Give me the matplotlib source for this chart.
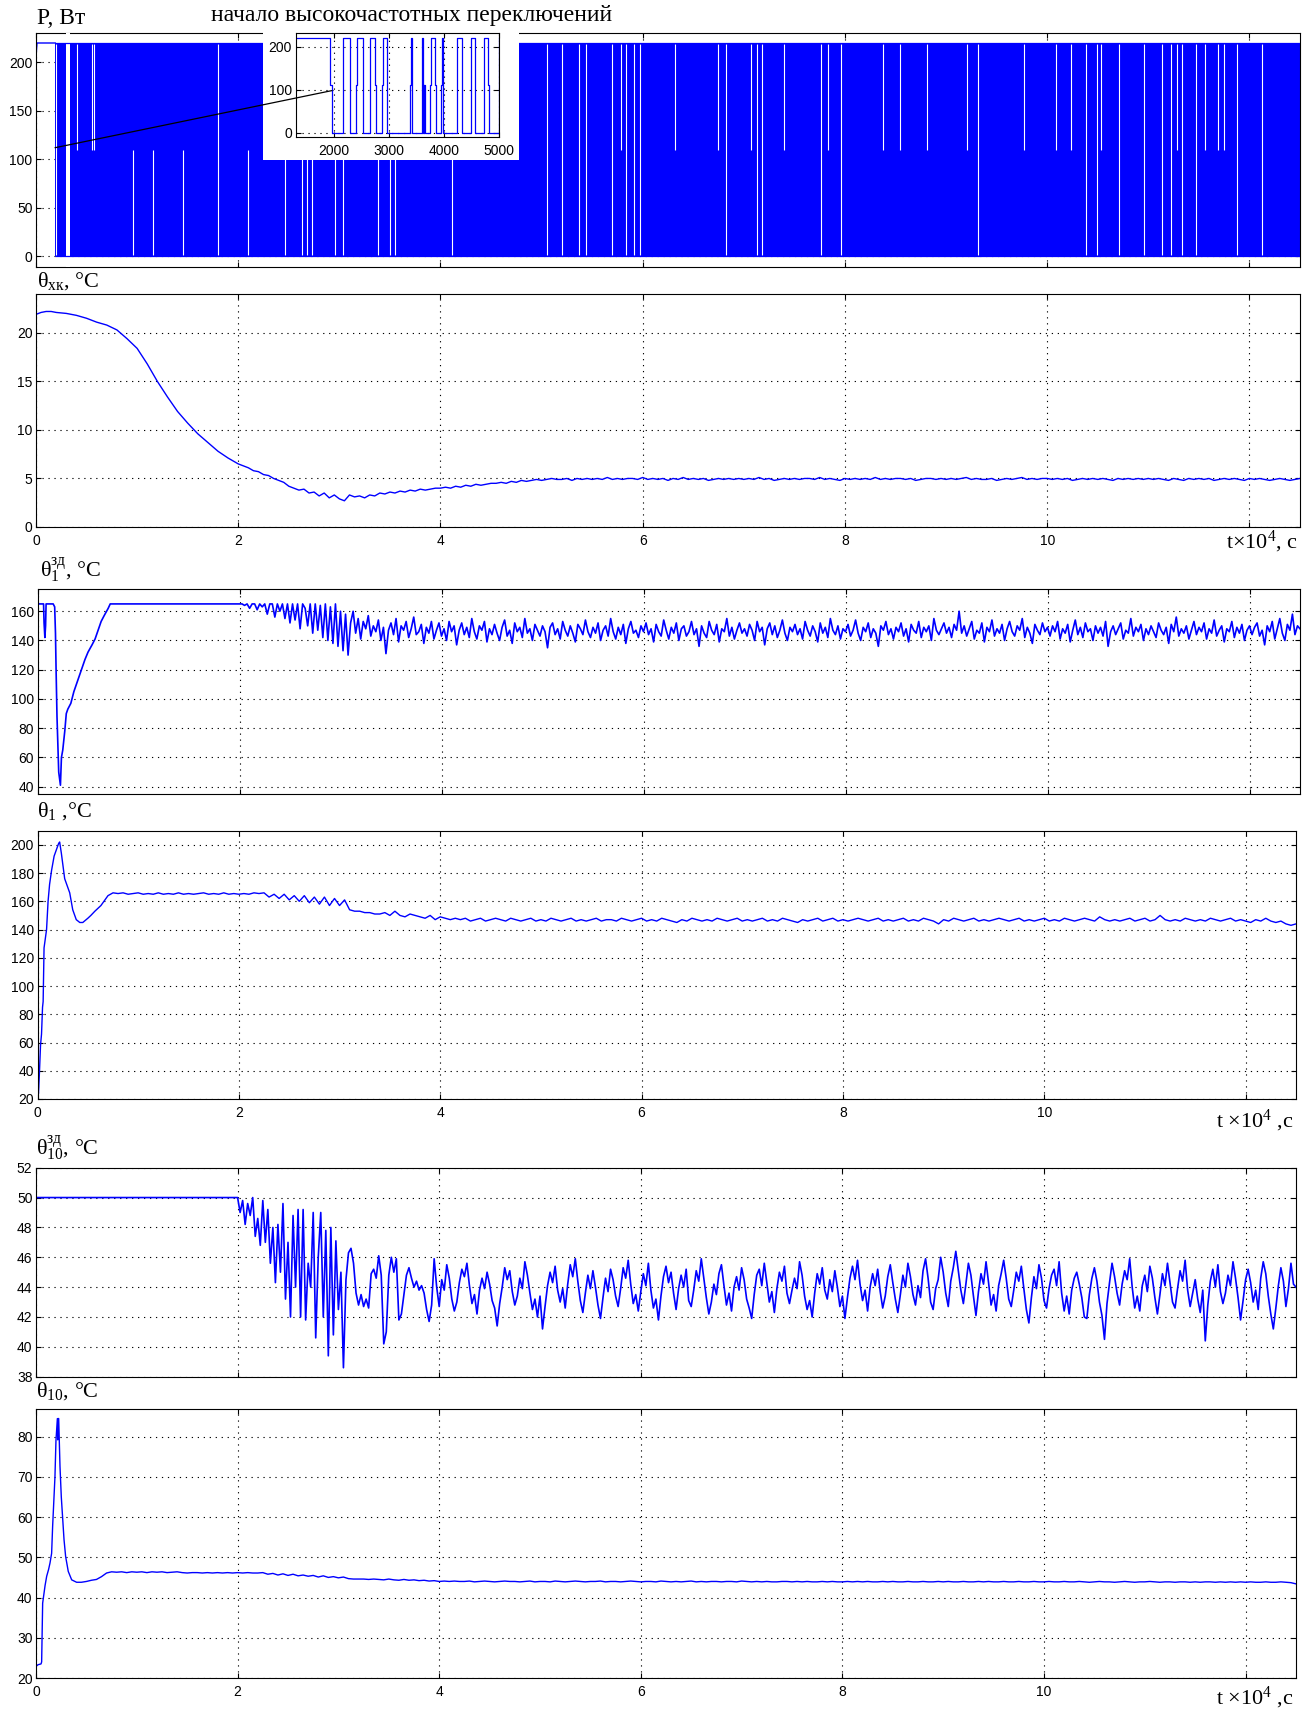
import numpy as np
import matplotlib
matplotlib.use("Agg")
import matplotlib.pyplot as plt
from matplotlib.patches import Rectangle, ConnectionPatch

W, H = 1312, 1711
BLUE = "#0000ff"
STEP = 0.05    # sampling step of the smooth tabulated tails, x10^4 s
FINE = 0.025   # sampling step of the noisy tabulated tails

# ---------------- P, Вт (dense relay switching) ----------------
p_start_t = [0.0, 0.003, 0.01, 0.19]
p_start = [200, 210, 220, 220]
p_switch_from = 0.19
p_high, p_mid, p_low = 220, 110, 0
p_full_gaps = [0.20, 1.80, 2.46, 2.63, 2.68, 2.73, 2.96, 3.04, 3.38, 3.50, 3.55, 4.11,
               5.05, 5.20, 5.37, 5.44, 5.70, 5.83, 5.91, 5.97, 6.82, 7.13, 7.18, 7.76,
               7.96, 9.32, 10.38, 10.49, 10.71, 10.96, 11.14, 11.22, 11.33, 11.47,
               11.88, 12.12]
p_full_span = (0.296, 0.336)
p_upper_gaps = [0.41, 0.55, 0.57, 5.79, 6.32, 6.74, 7.07, 7.40, 7.83, 8.38, 8.54, 8.81,
                9.21, 9.77, 10.09, 10.24, 10.53, 11.28, 11.56, 11.69, 11.75]
p_lower_gaps = [0.96, 1.16, 1.45, 2.10]

# inset: start of high-frequency switching, seconds
ins_t = [1320, 1940, 1970, 2170, 2300, 2400, 2425, 2535, 2655, 2745, 2775, 2880, 2897,
         2970, 3380, 3406, 3418, 3606, 3624, 3630, 3638, 3644, 3652, 3745, 3764, 3830,
         3855, 3952, 3970, 3988, 4242, 4321, 4485, 4558, 4727, 4788, 4812, 4990, 5000]
ins_p = [220, 110, 0, 220, 0, 110, 220, 0, 220, 110, 0, 110, 220,
         0, 110, 220, 0, 220, 0, 110, 0, 110, 0, 110, 220, 110,
         0, 110, 220, 0, 220, 0, 220, 0, 220, 110, 0, 220, 220]

# ---------------- theta_xk ----------------
xk_t_early = [0.0, 0.05, 0.1, 0.15, 0.2, 0.3, 0.4, 0.5, 0.6, 0.7, 0.8, 0.9, 1.0, 1.1,
              1.2, 1.3, 1.4, 1.5, 1.6, 1.7, 1.8, 1.9, 2.0]
xk_early = [21.9, 22.1, 22.2, 22.2, 22.1, 22.0, 21.8, 21.5, 21.1, 20.8, 20.3, 19.4, 18.4,
            16.8, 15.0, 13.4, 11.9, 10.7, 9.6, 8.7, 7.8, 7.1, 6.5]
xk_tail_t0 = 2.05
xk_tail = [
    6.3, 6.1, 5.8, 5.7, 5.4, 5.3, 5.0, 4.8, 4.6, 4.2,
    4.0, 3.8, 3.9, 3.5, 3.6, 3.2, 3.5, 3.0, 3.3, 2.9,
    2.7, 3.3, 3.1, 3.2, 3.0, 3.3, 3.2, 3.5, 3.4, 3.6,
    3.5, 3.7, 3.6, 3.8, 3.7, 3.9, 3.8, 3.9, 4.0, 4.0,
    4.1, 4.0, 4.2, 4.1, 4.3, 4.2, 4.4, 4.3, 4.4, 4.5,
    4.5, 4.6, 4.5, 4.7, 4.6, 4.8, 4.7, 4.8, 4.9, 4.8,
    4.9, 5.0, 4.9, 4.9, 5.0, 4.8, 5.0, 4.9, 5.0, 4.9,
    5.0, 4.9, 5.1, 4.9, 5.0, 4.9, 5.0, 5.0, 4.9, 5.1,
    4.9, 5.0, 4.9, 5.0, 4.8, 5.0, 4.9, 5.1, 4.9, 5.0,
    4.9, 5.0, 4.8, 4.9, 5.0, 4.9, 5.0, 4.9, 5.0, 4.9,
    5.0, 4.9, 5.1, 4.9, 5.0, 4.8, 4.9, 5.0, 4.9, 5.0,
    4.9, 5.0, 5.0, 4.9, 5.1, 4.9, 5.0, 4.9, 4.8, 5.0,
    4.9, 5.0, 4.9, 5.0, 4.9, 5.1, 4.9, 5.0, 4.9, 5.0,
    5.0, 4.9, 5.0, 4.8, 4.9, 5.0, 5.0, 4.9, 5.0, 4.9,
    5.0, 4.9, 5.0, 5.1, 4.9, 5.0, 4.9, 4.9, 5.0, 4.8,
    4.9, 5.0, 4.9, 5.0, 5.1, 4.9, 5.0, 4.9, 5.0, 5.0,
    4.9, 5.0, 4.9, 5.0, 4.8, 4.9, 5.0, 4.9, 5.0, 4.9,
    5.0, 4.9, 4.8, 5.0, 4.9, 5.0, 4.9, 5.0, 4.9, 5.0,
    4.9, 5.0, 4.9, 4.8, 5.0, 4.9, 4.8, 5.0, 4.9, 5.0,
    4.9, 5.0, 4.8, 4.9, 5.0, 4.9, 5.0, 4.9, 4.8, 5.0,
    4.9, 5.0, 4.9, 4.8, 4.9, 5.0, 4.9, 4.8, 4.9, 5.0,
]

# ---------------- theta_1 setpoint ----------------
s1_t_early = [0.0, 0.06, 0.065, 0.073, 0.08, 0.085, 0.155, 0.17, 0.178, 0.184, 0.193,
              0.21, 0.227, 0.237, 0.25, 0.27, 0.285, 0.30, 0.33, 0.36, 0.40, 0.435,
              0.47, 0.50, 0.54, 0.57, 0.60, 0.63, 0.66, 0.70, 0.72, 2.0]
s1_early = [165, 165, 152, 142, 150, 165, 165, 163, 145, 120, 88,
            50, 41, 60, 65, 78, 90, 93, 97, 105, 113, 120,
            127, 132, 137, 141, 147, 153, 157, 162, 165, 165]
s1_tail_t0 = 2.025
s1_tail = [
    165, 164, 165, 162, 165, 165, 161, 165, 163, 165, 158, 165, 165, 156, 165, 160, 165, 155, 165, 152,
    165, 154, 165, 148, 165, 162, 150, 165, 145, 165, 147, 164, 142, 165, 140, 163, 138, 165, 136, 160,
    133, 158, 130, 152, 160, 145, 155, 141, 153, 148, 157, 143, 150, 146, 154, 140, 149, 131, 147, 152,
    144, 155, 139, 150, 147, 153, 142, 148, 156, 144, 146, 151, 138, 149, 145, 153, 141, 147, 152, 143,
    148, 140, 153, 146, 150, 137, 147, 152, 144, 149, 142, 155, 146, 141, 150, 147, 153, 139, 148, 144,
    151, 145, 140, 149, 154, 143, 147, 138, 152, 146, 149, 142, 155, 145, 148, 140, 151, 147, 143, 150,
    146, 135, 149, 152, 144, 148, 141, 153, 147, 143, 150, 145, 139, 151, 148, 144, 154, 146, 142, 149,
    145, 152, 140, 147, 150, 143, 155, 146, 141, 149, 144, 151, 138, 148, 153, 145, 147, 142, 150, 146,
    152, 144, 148, 139, 151, 146, 143, 154, 147, 141, 149, 145, 152, 140, 148, 150, 143, 146, 153, 144,
    148, 136, 150, 145, 142, 153, 147, 144, 151, 139, 148, 146, 155, 143, 149, 141, 147, 152, 145, 148,
    143, 151, 147, 140, 153, 146, 149, 137, 148, 152, 144, 150, 142, 147, 154, 145, 140, 149, 146, 151,
    144, 148, 141, 153, 147, 143, 150, 146, 139, 152, 145, 149, 142, 155, 147, 144, 150, 141, 148, 146,
    151, 143, 147, 154, 145, 140, 149, 146, 152, 142, 148, 145, 136, 150, 147, 153, 144, 148, 141, 149,
    146, 152, 143, 148, 139, 151, 147, 145, 153, 142, 149, 146, 150, 140, 155, 147, 144, 148, 152, 145,
    149, 142, 151, 147, 160, 145, 150, 143, 148, 153, 141, 147, 145, 152, 139, 149, 146, 154, 143, 148,
    145, 151, 140, 148, 153, 146, 143, 150, 147, 155, 142, 149, 145, 138, 151, 147, 144, 152, 146, 149,
    143, 150, 146, 153, 141, 148, 145, 151, 139, 147, 154, 144, 149, 142, 152, 146, 148, 140, 150, 145,
    149, 143, 153, 136, 146, 150, 144, 148, 152, 141, 147, 145, 155, 143, 149, 146, 151, 140, 148, 144,
    150, 146, 142, 152, 147, 144, 149, 138, 151, 146, 156, 143, 148, 145, 150, 141, 147, 153, 144, 149,
    146, 152, 141, 148, 145, 154, 143, 147, 150, 139, 148, 146, 153, 142, 149, 145, 151, 140, 147, 150,
    144, 149, 152, 143, 147, 137, 150, 146, 153, 141, 148, 155, 145, 140, 151, 147, 158, 144, 150, 148,
]

# ---------------- theta_1 ----------------
t1_t_early = [0.0, 0.01, 0.02, 0.03, 0.04, 0.05, 0.056, 0.065, 0.08, 0.09, 0.105, 0.12,
              0.14, 0.165, 0.19, 0.21, 0.22, 0.237, 0.255, 0.27, 0.30, 0.32, 0.35,
              0.385, 0.42, 0.45, 0.50, 0.53, 0.57, 0.60, 0.63, 0.66, 0.70]
t1_early = [21, 24, 40, 58, 66, 85, 89, 127, 135, 140, 160, 172,
            182, 192, 197, 201, 202, 194, 184, 176, 170, 166, 154,
            147, 145, 145, 148, 150, 153, 155, 157, 160, 164]
t1_tail_t0 = 0.75
t1_tail = [
    166, 165.5, 166, 165, 165.5, 166, 165, 165.5, 165, 166,
    165, 165.5, 165, 166, 165, 165.5, 165, 165.5, 166, 165,
    165.5, 165, 166, 165, 165.5, 165, 165.5, 165, 166, 165.5,
    166, 163, 165, 162, 165, 161, 164, 160, 164, 159,
    163, 158, 163, 157, 162, 157, 161, 154, 153, 153,
    152, 152, 151, 151, 152, 150, 153, 150, 149, 151,
    150, 149, 148, 150, 147, 149, 148, 147, 148, 147,
    148, 146, 147, 148, 146, 147, 148, 147, 146, 148,
    147, 146, 147, 148, 146, 147, 146, 148, 147, 146,
    147, 148, 146, 147, 146, 147, 148, 146, 147, 147,
    146, 148, 147, 146, 147, 148, 146, 147, 146, 148,
    147, 146, 145, 147, 146, 148, 147, 146, 147, 146,
    148, 147, 146, 147, 148, 146, 147, 146, 147, 148,
    146, 147, 146, 148, 147, 146, 145, 147, 146, 147,
    148, 146, 147, 148, 146, 147, 146, 147, 148, 147,
    146, 147, 148, 146, 147, 146, 147, 148, 146, 147,
    146, 148, 147, 146, 144, 147, 146, 148, 147, 146,
    147, 148, 146, 147, 146, 147, 148, 147, 146, 147,
    148, 146, 147, 146, 147, 148, 146, 147, 146, 148,
    147, 146, 147, 148, 147, 146, 149, 147, 146, 147,
    146, 147, 148, 146, 147, 148, 146, 147, 150, 147,
    146, 147, 146, 148, 147, 146, 147, 146, 148, 147,
    146, 147, 148, 146, 147, 146, 145, 147, 146, 148,
    146, 145, 146, 144, 143, 144,
]

# ---------------- theta_10 setpoint ----------------
s10_t_early = [0.0, 2.0]
s10_early = [50.0, 50.0]
s10_tail_t0 = 2.025
s10_tail = [
    49.0, 49.8, 48.2, 49.6, 48.8, 50.0, 47.4, 48.6, 46.8, 49.8, 47.0, 49.2, 45.6, 48.0, 44.3, 48.2, 45.0, 49.6, 43.2, 47.0,
    42.0, 48.8, 44.0, 49.2, 42.0, 49.2, 41.8, 45.6, 44.0, 49.0, 40.6, 46.0, 49.0, 42.0, 47.8, 39.4, 48.0, 40.8, 47.1, 42.5,
    45.0, 38.6, 44.5, 46.3, 46.6, 45.6, 43.6, 42.8, 43.5, 42.7, 43.2, 42.6, 44.9, 45.2, 44.6, 46.1, 44.8, 40.2, 41.0, 44.8,
    46.0, 45.0, 45.9, 41.8, 42.2, 43.5, 44.8, 45.3, 44.6, 44.0, 44.4, 43.8, 44.1, 43.6, 42.5, 41.7, 42.8, 45.9, 44.0, 42.7,
    44.5, 43.8, 45.5, 44.6, 43.2, 42.4, 43.0, 44.3, 45.2, 44.7, 45.6, 44.1, 42.9, 43.5, 42.2, 43.8, 44.6, 43.9, 45.0, 44.2,
    43.1, 42.6, 41.4, 42.9, 44.0, 45.3, 44.5, 45.1, 43.7, 42.8, 43.4, 44.6, 43.9, 45.7, 44.8, 43.6, 42.5, 43.2, 42.0, 43.4,
    41.2, 42.7, 44.1, 45.0, 44.3, 45.4, 43.8, 43.0, 43.9, 42.6, 44.2, 45.5, 44.7, 45.9, 44.4, 43.1, 42.3, 43.6, 44.8, 43.9,
    45.1, 44.0, 42.8, 41.9, 43.3, 44.6, 43.7, 45.2, 44.5, 43.4, 42.7, 43.9, 45.3, 44.6, 45.8, 44.2, 42.9, 43.5, 42.4, 43.7,
    44.9, 44.1, 45.6, 43.8, 42.6, 43.2, 41.8, 43.4, 44.7, 45.4, 44.3, 45.0, 43.6, 42.5, 43.9, 44.8, 44.0, 45.2, 43.1, 42.7,
    43.8, 45.1, 44.4, 45.9, 44.6, 43.3, 42.2, 43.0, 44.2, 43.5, 44.9, 45.5, 44.1, 42.8, 43.6, 42.4, 44.0, 44.7, 43.8, 45.3,
    44.5, 43.2, 42.6, 41.9, 43.5, 44.8, 45.2, 44.1, 45.6, 44.3, 43.0, 43.7, 42.3, 43.9, 45.0, 44.4, 45.4, 43.6, 42.9, 43.8,
    44.6, 43.9, 45.7, 44.8, 43.4, 42.5, 43.1, 42.0, 43.6, 44.9, 44.2, 45.3, 43.8, 43.2, 44.5, 43.7, 45.1, 44.0, 42.7, 43.4,
    41.9, 43.3, 44.6, 45.4, 44.5, 45.8, 44.2, 43.1, 43.8, 42.4, 44.0, 44.9, 44.1, 45.2, 43.7, 42.6, 43.4, 44.7, 45.5, 44.3,
    43.2, 42.3, 43.5, 44.8, 44.0, 45.6, 44.7, 43.5, 42.8, 44.1, 43.3, 45.1, 45.9, 44.6, 43.0, 42.5, 43.9, 44.5, 46.0, 45.0,
    43.6, 42.7, 44.4, 45.3, 46.4, 45.1, 43.8, 42.9, 44.2, 45.6, 44.8, 43.4, 42.1, 43.7, 44.9, 44.2, 45.7, 44.3, 42.8, 43.5,
    42.4, 44.1, 44.9, 45.8, 44.6, 43.2, 42.7, 43.8, 45.0, 44.4, 45.4, 43.9, 42.5, 41.6, 43.3, 44.7, 43.9, 45.5, 44.6, 43.1,
    42.6, 43.9, 44.8, 45.2, 44.1, 45.7, 43.6, 42.4, 43.4, 42.2, 43.8, 44.6, 45.0, 44.2, 43.3, 42.0, 41.9, 43.5, 44.6, 45.3,
    44.4, 43.0, 42.1, 40.5, 42.9, 44.3, 45.6, 44.7, 43.6, 42.8, 44.2, 45.1, 44.5, 45.9, 44.0, 42.6, 43.4, 42.4, 44.1, 44.8,
    43.7, 45.4, 44.6, 43.3, 42.2, 43.5, 44.9, 44.1, 45.6, 44.3, 43.0, 42.6, 43.9, 45.1, 44.4, 45.8, 43.8, 42.7, 43.6, 44.5,
    43.2, 42.3, 43.8, 40.4, 42.8, 44.4, 45.2, 44.0, 45.5, 43.7, 42.9, 43.6, 44.8, 44.1, 45.7, 44.6, 43.3, 41.8, 43.1, 44.5,
    45.2, 44.3, 43.0, 43.8, 42.5, 44.6, 45.7, 44.9, 43.4, 42.2, 41.2, 42.6, 44.1, 45.3, 44.4, 42.7, 43.9, 45.6, 44.2, 44.0,
]

# ---------------- theta_10 ----------------
t10_t_early = [0.0, 0.02, 0.05, 0.056, 0.062, 0.066, 0.079, 0.09, 0.106, 0.125, 0.139,
               0.155, 0.165, 0.178, 0.188, 0.198, 0.212, 0.216, 0.22, 0.225, 0.238,
               0.251, 0.264, 0.278, 0.294, 0.32, 0.354, 0.403, 0.45, 0.5, 0.55, 0.6,
               0.65, 0.70]
t10_early = [22.9, 23.3, 23.5, 24.0, 33.0, 38.6, 41.0, 43.0, 45.3, 47.0, 48.6,
             51.0, 57.7, 65.0, 70.0, 79.0, 84.5, 79.2, 84.5, 84.5, 72.6,
             65.0, 60.0, 54.4, 50.2, 46.5, 44.4, 43.8, 43.8, 44.0, 44.3, 44.5,
             45.2, 46.1]
t10_tail_t0 = 0.75
t10_tail = [
    46.4, 46.3, 46.4, 46.2, 46.4, 46.3, 46.4, 46.2, 46.4, 46.3,
    46.4, 46.2, 46.3, 46.4, 46.2, 46.1, 46.2, 46.2, 46.1, 46.2,
    46.1, 46.2, 46.1, 46.2, 46.1, 46.2, 46.1, 46.2, 46.1, 46.1,
    46.2, 45.8, 46.0, 45.6, 45.9, 45.5, 45.8, 45.4, 45.6, 45.3,
    45.5, 45.1, 45.4, 45.0, 45.2, 44.9, 45.1, 44.7, 44.6, 44.6,
    44.6, 44.5, 44.6, 44.5, 44.4, 44.6, 44.4, 44.3, 44.5, 44.3,
    44.4, 44.2, 44.3, 44.1, 44.2, 44.0, 44.1, 44.0, 44.1, 44.0,
    44.0, 44.1, 43.9, 44.0, 44.1, 44.0, 43.9, 44.0, 44.1, 44.0,
    44.0, 43.9, 44.0, 44.1, 43.9, 44.0, 44.0, 43.9, 44.1, 44.0,
    43.9, 44.0, 44.1, 44.0, 43.9, 44.0, 44.0, 44.1, 43.9, 44.0,
    44.0, 43.9, 44.0, 44.1, 44.0, 43.9, 44.0, 44.0, 43.9, 44.1,
    44.0, 43.9, 44.0, 43.9, 44.0, 44.1, 43.9, 44.0, 43.9, 44.0,
    44.0, 43.9, 44.0, 44.0, 43.9, 44.1, 44.0, 43.9, 44.0, 43.9,
    44.0, 43.9, 43.9, 44.0, 44.0, 43.9, 44.0, 43.9, 44.0, 43.9,
    43.9, 44.0, 43.9, 44.0, 43.9, 43.9, 44.0, 43.9, 44.0, 43.9,
    44.0, 43.9, 43.9, 44.0, 43.9, 44.0, 43.9, 43.9, 44.0, 43.9,
    43.9, 44.0, 43.9, 43.9, 44.0, 43.9, 44.0, 43.9, 43.9, 44.0,
    43.9, 43.9, 44.0, 43.9, 44.0, 43.9, 43.9, 44.0, 43.9, 43.9,
    44.0, 43.9, 43.9, 44.0, 43.9, 43.9, 44.0, 43.9, 43.9, 44.0,
    43.9, 43.9, 44.0, 43.9, 43.8, 43.9, 44.0, 43.9, 43.9, 43.8,
    43.9, 44.0, 43.9, 43.8, 43.9, 43.9, 44.0, 43.9, 43.8, 43.9,
    43.9, 43.8, 43.9, 43.9, 43.8, 43.9, 43.8, 43.9, 43.9, 43.8,
    43.9, 43.8, 43.9, 43.8, 43.9, 43.8, 43.9, 43.8, 43.8, 43.9,
    43.8, 43.8, 43.9, 43.8, 43.7, 43.4,
]

X_MAX = 12.5
X_TICKS = [0, 2, 4, 6, 8, 10, 12]
X_TICKLABELS = ["0", "2", "4", "6", "8", "10", ""]

plt.rcParams["font.family"] = ["Liberation Sans", "DejaVu Sans"]
plt.rcParams["mathtext.fontset"] = "custom"
plt.rcParams["mathtext.default"] = "regular"
plt.rcParams["lines.scale_dashes"] = False
SERIF = ["Liberation Serif", "DejaVu Serif"]
GRID_LS = (0, (0.9, 3.4))
LW = 1.0
LW_NOISY = 1.2


def box(l, t, r, b):
    """pixel box (left, top, right, bottom) -> figure fraction rect"""
    return [l / W, 1 - b / H, (r - l) / W, (b - t) / H]


def at(x, y):
    return x / W, 1 - y / H


def tail(t0, values, step=STEP):
    return np.round(t0 + step * np.arange(len(values)), 4)


def series(t_early, v_early, t_tail, v_tail):
    return np.array(list(t_early) + list(t_tail)), np.array(list(v_early) + list(v_tail))


def style(ax, ylim, yticks, xlabels):
    ax.set_xlim(0, X_MAX)
    ax.set_ylim(*ylim)
    ax.set_xticks(X_TICKS)
    ax.set_yticks(yticks)
    if xlabels:
        ax.set_xticklabels(X_TICKLABELS)
    else:
        ax.set_xticklabels([])
    ax.grid(True, color="k", linestyle=GRID_LS, linewidth=0.8)
    ax.set_axisbelow(True)
    ax.tick_params(direction="in", length=3.6, width=0.8, top=True, right=True,
                   labelsize=10, colors="k")
    ax.tick_params(axis="x", pad=5)
    ax.tick_params(axis="y", pad=2.5)
    for s in ax.spines.values():
        s.set_linewidth(0.8)


fig = plt.figure(figsize=(W / 100, H / 100), dpi=100)

# panel 1: P
ax1 = fig.add_axes(box(36, 33.3, 1300, 267))
ax1.fill_between([p_switch_from, X_MAX], p_low, p_high, color=BLUE, lw=0, zorder=2)
ax1.plot(p_start_t, p_start, color=BLUE, lw=LW, zorder=2)
ax1.axvspan(*p_full_span, ymin=0, ymax=1, color="white", lw=0, zorder=3)
ax1.vlines(p_full_gaps, p_low + 1, p_high - 1, color="white", lw=0.8, zorder=3)
ax1.vlines(p_upper_gaps, p_mid, p_high - 1, color="white", lw=0.8, zorder=3)
ax1.vlines(p_lower_gaps, p_low + 1, p_mid, color="white", lw=0.8, zorder=3)
ax1.hlines([p_high, p_low], p_switch_from, X_MAX, color=BLUE, lw=0.9, zorder=4)
style(ax1, (-11, 230), [0, 50, 100, 150, 200], False)

# panel 2: theta_xk
ax2 = fig.add_axes(box(36, 294, 1300, 527))
ax2.plot(*series(xk_t_early, xk_early, tail(xk_tail_t0, xk_tail), xk_tail), color=BLUE, lw=LW)
style(ax2, (0, 24), [0, 5, 10, 15, 20], True)

# panel 3: theta_1 setpoint
ax3 = fig.add_axes(box(37.5, 589.3, 1300, 794))
ax3.plot(*series(s1_t_early, s1_early, tail(s1_tail_t0, s1_tail, FINE), s1_tail),
         color=BLUE, lw=LW_NOISY)
style(ax3, (35, 175), [40, 60, 80, 100, 120, 140, 160], False)

# panel 4: theta_1
ax4 = fig.add_axes(box(37.5, 830.7, 1296, 1099))
ax4.plot(*series(t1_t_early, t1_early, tail(t1_tail_t0, t1_tail), t1_tail), color=BLUE, lw=LW)
style(ax4, (20, 210), list(range(20, 201, 20)), True)

# panel 5: theta_10 setpoint
ax5 = fig.add_axes(box(36, 1167.7, 1296, 1376.7))
ax5.plot(*series(s10_t_early, s10_early, tail(s10_tail_t0, s10_tail, FINE), s10_tail),
         color=BLUE, lw=LW_NOISY)
style(ax5, (38, 52), list(range(38, 53, 2)), False)

# panel 6: theta_10
ax6 = fig.add_axes(box(36, 1409.3, 1296, 1678))
ax6.plot(*series(t10_t_early, t10_early, tail(t10_tail_t0, t10_tail), t10_tail),
         color=BLUE, lw=LW)
style(ax6, (20, 86.8), [20, 30, 40, 50, 60, 70, 80], True)

# inset with white backing
fig.add_artist(Rectangle(at(262.5, 159.5), 256 / W, 131 / H, transform=fig.transFigure,
                         facecolor="white", edgecolor="none", zorder=5))
axin = fig.add_axes(box(296, 33.3, 499.3, 136.7), zorder=6)
axin.step(ins_t, ins_p, where="post", color=BLUE, lw=0.9)
axin.set_xlim(1320, 5000)
axin.set_ylim(-9, 231)
axin.set_xticks([2000, 3000, 4000, 5000])
axin.set_yticks([0, 100, 200])
axin.grid(True, color="k", linestyle=GRID_LS, linewidth=0.8)
axin.tick_params(direction="in", length=3.6, width=0.8, top=True, right=True,
                 labelsize=10)
axin.tick_params(axis="x", pad=5)
axin.tick_params(axis="y", pad=3)
for s in axin.spines.values():
    s.set_linewidth(0.8)

con = ConnectionPatch(xyA=(0.188, 112), coordsA=ax1.transData,
                      xyB=(1970, 98), coordsB=axin.transData,
                      color="k", lw=0.9, zorder=10)
fig.add_artist(con)

# texts
fig.text(*at(412, 15), "начало высокочастотных переключений", ha="center", va="center",
         family=SERIF, fontsize=17)
fig.text(*at(37, 24), "P, Вт", ha="left", va="baseline", family=SERIF, fontsize=17)
fig.text(*at(37, 287), "$θ_{хк}$, °C", ha="left", va="baseline", family=SERIF, fontsize=16)
fig.text(*at(40, 577), "$θ^{зд}_{1}$, °C", ha="left", va="baseline", family=SERIF, fontsize=16)
fig.text(*at(37, 817), "$θ_{1}$ ,°C", ha="left", va="baseline", family=SERIF, fontsize=16)
fig.text(*at(36, 1155), "$θ^{зд}_{10}$, °C", ha="left", va="baseline", family=SERIF, fontsize=16)
fig.text(*at(36, 1397), "$θ_{10}$, °C", ha="left", va="baseline", family=SERIF, fontsize=16)
fig.text(*at(1298, 548), "t×10$^{4}$, c", ha="right", va="baseline", family=SERIF, fontsize=16)
fig.text(*at(1293, 1127), "t ×10$^{4}$ ,c", ha="right", va="baseline", family=SERIF, fontsize=16)
fig.text(*at(1293, 1704), "t ×10$^{4}$ ,c", ha="right", va="baseline", family=SERIF, fontsize=16)

fig.savefig("out.png", dpi=100)
